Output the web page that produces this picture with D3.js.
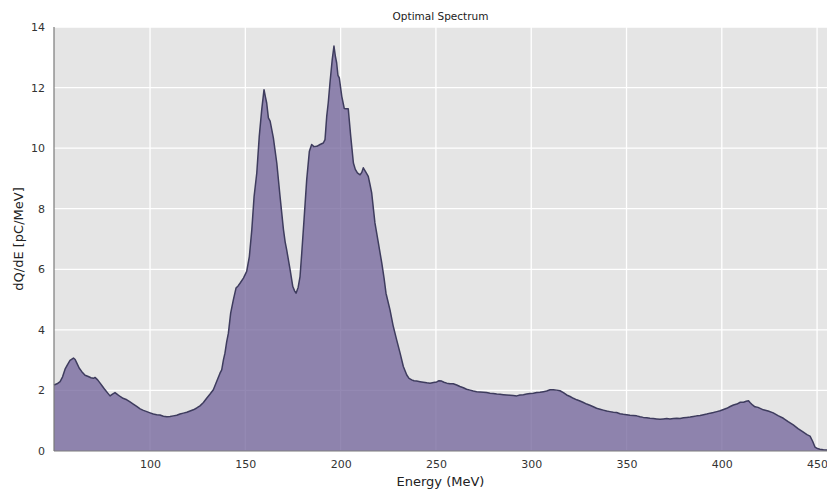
<!DOCTYPE html>
<html><head><meta charset="utf-8">
<script src="https://cdn.jsdelivr.net/npm/d3@7"></script>
<style>body{margin:0;background:#fff}svg{display:block}text{font-family:"DejaVu Sans",sans-serif}</style>
</head><body><svg id="c" width="827" height="492"></svg>
<script>
const title = "Optimal Spectrum";
const xLabel = "Energy (MeV)";
const yLabel = "dQ/dE [pC/MeV]";
const xTicks = [100,150,200,250,300,350,400,450];
const yTicks = [0,2,4,6,8,10,12,14];
const energy = [49.6,51.2,52.8,54.1,55.4,56.7,58.0,59.8,60.7,61.6,62.8,64.2,65.9,67.6,69.0,70.3,71.1,72.5,73.8,75.1,76.4,77.7,79.0,80.3,81.6,83.0,84.3,85.8,87.8,89.5,91.2,93.0,94.8,96.5,98.3,100,101.7,103.5,105.2,107.0,108.8,110.5,112.2,114.0,115.7,117.5,119.3,121.0,122.7,124.5,126.2,128.0,129.7,131.5,133.2,135.0,136.7,137.6,138.5,139.3,140.2,141.1,142.3,143.7,145.1,146.2,147.2,149.0,150.7,152.1,153.4,154.6,156.0,157.3,158.6,159.8,160.5,161.2,162.1,163.0,164.7,166.5,168.2,170.0,170.9,171.7,173.5,174.9,175.9,176.6,177.7,178.7,179.6,180.8,182.2,183.6,184.8,186.0,187.5,189.2,190.9,191.8,192.7,193.5,194.4,195.6,196.5,197.2,197.9,198.6,199.3,200.6,201.9,203.0,204.0,205.3,206.7,207.7,208.8,210.2,211.1,211.9,213.3,214.5,215.4,216.3,218.0,219.8,221.6,222.8,223.8,225.9,227.5,229.4,231.2,232.9,234.7,235.9,237.3,238.5,239.9,241.7,243.4,245.2,246.9,248.7,250.4,251.6,253.0,254.2,255.7,257.4,259.1,260.9,262.6,264.4,266.1,267.9,269.6,271.4,273.1,274.9,276.6,278.4,280.1,281.9,283.6,285.4,287.1,288.9,290.6,292.4,294.1,295.9,297.6,299.4,301.1,302.9,304.6,306.4,308.1,309.9,311.6,313.4,315.1,316.9,318.6,320.4,322.1,323.9,325.6,327.4,329.1,330.8,332.6,334.3,336.1,337.8,339.6,341.3,343.1,344.8,346.6,348.3,350.1,351.8,353.6,355.3,357.1,358.8,360.6,362.3,364.1,365.8,367.6,369.3,371.1,372.8,374.6,376.4,378.1,379.9,381.6,383.4,385.1,386.9,388.6,390.4,392.1,393.9,395.6,397.4,399.1,400.9,402.6,404.4,406.1,407.9,409.7,411.4,412.8,414.0,414.8,416.1,417.4,419.0,421.8,424.3,427.0,429.5,432.3,434.8,437.5,440.0,442.8,444.7,446.3,447.6,448.9,450.2,451.5,453.3,455.2];
const dqde = [2.18,2.22,2.29,2.45,2.70,2.85,2.99,3.07,3.02,2.90,2.74,2.62,2.50,2.46,2.42,2.40,2.43,2.35,2.24,2.13,2.02,1.92,1.82,1.88,1.93,1.86,1.80,1.74,1.69,1.62,1.55,1.47,1.39,1.34,1.30,1.26,1.22,1.20,1.19,1.15,1.13,1.14,1.16,1.18,1.22,1.25,1.28,1.32,1.36,1.42,1.49,1.60,1.74,1.88,2.02,2.30,2.57,2.68,3.01,3.23,3.60,3.89,4.55,4.99,5.38,5.45,5.54,5.71,5.93,6.42,7.31,8.41,9.18,10.39,11.27,11.93,11.70,11.49,11.00,10.89,10.34,9.51,8.41,7.31,6.90,6.64,5.98,5.43,5.28,5.21,5.40,5.76,6.54,7.64,8.96,9.90,10.12,10.05,10.06,10.12,10.17,10.28,11.05,11.50,12.15,12.93,13.37,13.05,12.82,12.40,12.32,11.71,11.31,11.30,11.30,10.39,9.51,9.30,9.18,9.12,9.20,9.35,9.20,9.07,8.80,8.52,7.53,6.87,6.20,5.70,5.21,4.66,4.15,3.67,3.23,2.79,2.51,2.40,2.35,2.32,2.31,2.29,2.27,2.25,2.24,2.26,2.28,2.32,2.31,2.27,2.24,2.22,2.22,2.18,2.13,2.09,2.04,2.01,1.98,1.96,1.95,1.94,1.93,1.91,1.90,1.88,1.87,1.86,1.85,1.84,1.83,1.82,1.85,1.86,1.88,1.90,1.91,1.93,1.94,1.96,1.98,2.02,2.02,2.01,1.99,1.93,1.85,1.80,1.74,1.69,1.65,1.60,1.55,1.51,1.46,1.41,1.38,1.35,1.32,1.30,1.28,1.27,1.23,1.21,1.20,1.18,1.17,1.16,1.13,1.11,1.10,1.08,1.07,1.06,1.05,1.06,1.07,1.06,1.07,1.08,1.07,1.10,1.11,1.12,1.14,1.16,1.17,1.20,1.22,1.25,1.27,1.30,1.33,1.37,1.41,1.47,1.52,1.55,1.61,1.61,1.64,1.66,1.60,1.52,1.46,1.44,1.36,1.32,1.26,1.17,1.08,0.97,0.86,0.74,0.62,0.54,0.49,0.33,0.13,0.08,0.06,0.04,0.03];

const W = 827, H = 492;
const m = {left:54, right:827, top:27, bottom:451};
const svg = d3.select("#c");
const x = d3.scaleLinear().domain([49.6, 455.2]).range([m.left, m.right]);
const y = d3.scaleLinear().domain([0, 14]).range([m.bottom, m.top]);

svg.append("rect").attr("x", m.left).attr("y", m.top).attr("width", m.right - m.left).attr("height", m.bottom - m.top).attr("fill", "#e5e5e5");

const g = svg.append("g");
g.selectAll(".vg").data(xTicks).join("line").attr("x1", d=>x(d)).attr("x2", d=>x(d)).attr("y1", m.top).attr("y2", m.bottom).attr("stroke", "#fff").attr("stroke-width", 1.3);
g.selectAll(".hg").data(yTicks).join("line").attr("x1", m.left).attr("x2", m.right).attr("y1", d=>y(d)).attr("y2", d=>y(d)).attr("stroke", "#fff").attr("stroke-width", 1.3);

const pts = energy.map((e,i)=>[e, dqde[i]]);
const area = d3.area().x(d=>x(d[0])).y0(y(0)).y1(d=>y(d[1]));
const line = d3.line().x(d=>x(d[0])).y(d=>y(d[1]));
svg.append("path").datum(pts).attr("d", area).attr("fill", "#70629a").attr("fill-opacity", 0.75);
svg.append("path").datum(pts).attr("d", line).attr("fill", "none").attr("stroke", "#3e3c5e").attr("stroke-width", 1.5).attr("stroke-linejoin", "round");

// spines
svg.append("line").attr("x1", m.left).attr("x2", m.left).attr("y1", m.top).attr("y2", m.bottom).attr("stroke", "#7a7a7a").attr("stroke-width", 1.2);
svg.append("line").attr("x1", m.left).attr("x2", m.right).attr("y1", m.bottom).attr("y2", m.bottom).attr("stroke", "#7a7a7a").attr("stroke-width", 1.2);

const xAxis = d3.axisBottom(x).tickValues(xTicks).tickSize(0).tickPadding(9);
const gx = svg.append("g").attr("transform", `translate(0,${m.bottom})`).call(xAxis);
gx.select(".domain").remove();
gx.selectAll("text").attr("font-size", 11).attr("fill", "#333").attr("font-family", "DejaVu Sans");

const yAxis = d3.axisLeft(y).tickValues(yTicks).tickSize(0).tickPadding(9);
const gy = svg.append("g").attr("transform", `translate(${m.left},0)`).call(yAxis);
gy.select(".domain").remove();
gy.selectAll("text").attr("font-size", 11).attr("fill", "#333").attr("font-family", "DejaVu Sans");

svg.append("text").attr("x", (m.left + m.right)/2).attr("y", 20).attr("text-anchor", "middle").attr("font-size", 10.5).attr("fill", "#222").text(title);
svg.append("text").attr("x", (m.left + m.right)/2).attr("y", 486).attr("text-anchor", "middle").attr("font-size", 13).attr("fill", "#222").text(xLabel);
svg.append("text").attr("transform", `translate(23,${(m.top+m.bottom)/2}) rotate(-90)`).attr("text-anchor", "middle").attr("font-size", 13).attr("fill", "#222").text(yLabel);
</script></body></html>
